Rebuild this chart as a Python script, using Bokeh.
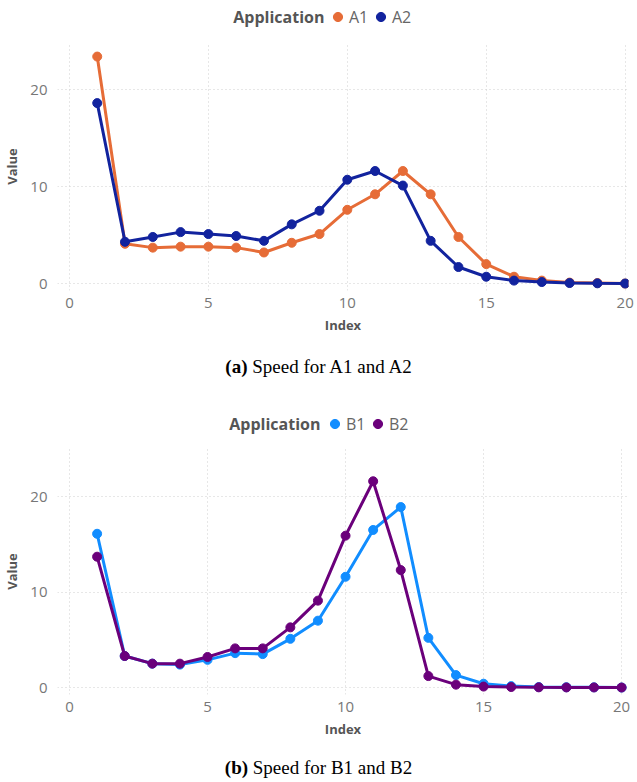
from bokeh.plotting import figure
from bokeh.models import Legend, LegendItem, Div, Range1d, FixedTicker, Label
from bokeh.layouts import column
from bokeh.embed import file_html
from bokeh.resources import INLINE

# ---------------- data ----------------
index = list(range(1, 21))
a1 = [23.4, 4.1, 3.7, 3.8, 3.8, 3.7, 3.2, 4.2, 5.1, 7.6, 9.2, 11.6, 9.2, 4.8, 2.0, 0.7, 0.3, 0.1, 0.05, 0.0]
a2 = [18.6, 4.3, 4.8, 5.3, 5.1, 4.9, 4.4, 6.1, 7.5, 10.7, 11.6, 10.1, 4.4, 1.7, 0.7, 0.3, 0.15, 0.05, 0.02, 0.0]
b1 = [16.1, 3.3, 2.5, 2.4, 2.9, 3.6, 3.5, 5.1, 7.0, 11.6, 16.5, 18.9, 5.2, 1.3, 0.4, 0.15, 0.05, 0.03, 0.02, 0.0]
b2 = [13.7, 3.3, 2.5, 2.5, 3.2, 4.1, 4.1, 6.3, 9.1, 15.9, 21.6, 12.3, 1.2, 0.3, 0.1, 0.05, 0.02, 0.01, 0.01, 0.0]
names_a = ["A1", "A2"]
names_b = ["B1", "B2"]
colors_a = ["#E66C37", "#12239E"]
colors_b = ["#118DFF", "#6B007B"]
x_ticks = [0, 5, 10, 15, 20]
y_ticks = [0, 10, 20]
legend_title = "Application"
x_label = "Index"
y_label = "Value"
caption_a = ("(a)", "Speed for A1 and A2")
caption_b = ("(b)", "Speed for B1 and B2")

FONT = "Open Sans"
W = 637
LEFT = 57
RIGHT = 9


def make_legend_fig(series, names, colors, height, leg_left, leg_top, title_right):
    # frame spans [LEFT, W-RIGHT] horizontally and the full height; data units = pixels
    p = figure(width=W, height=height, output_backend="svg", toolbar_location=None,
               x_range=Range1d(LEFT, W - RIGHT), y_range=Range1d(0, height),
               x_axis_type=None, y_axis_type=None,
               min_border_left=LEFT, min_border_right=RIGHT, min_border_top=0, min_border_bottom=0)
    p.outline_line_color = None
    p.grid.visible = False
    items = []
    for ys, name, col in zip(series, names, colors):
        # legend-only proxy renderers: data sits outside the visible range
        r = p.scatter([-1000 - i for i in index], ys, size=9, fill_color=col, line_color=col)
        items.append(LegendItem(label=name, renderers=[r]))
    leg = Legend(items=items, orientation="horizontal",
                 location=(leg_left - LEFT, height - leg_top - 23),
                 padding=0, margin=0, spacing=0,
                 glyph_width=23, glyph_height=23, label_standoff=0,
                 border_line_color=None, background_fill_alpha=0,
                 label_text_font=FONT, label_text_font_size="16px", label_text_color="#666666")
    p.add_layout(leg, "center")
    p.add_layout(Label(x=title_right, y=height - leg_top - 11.5, text=legend_title,
                       text_align="right", text_baseline="middle",
                       text_font=FONT, text_font_size="16px", text_font_style="bold",
                       text_color="#555555"))
    return p


def make_fig(series, colors, xr, yr, frame_h, bottom):
    p = figure(width=W, height=frame_h + bottom, output_backend="svg", toolbar_location=None,
               x_range=Range1d(*xr), y_range=Range1d(*yr),
               min_border_left=LEFT, min_border_right=RIGHT, min_border_top=0,
               min_border_bottom=bottom)
    p.outline_line_color = None
    p.background_fill_color = "white"
    p.border_fill_color = "white"
    for ax, ticks in ((p.xaxis[0], x_ticks), (p.yaxis[0], y_ticks)):
        ax.ticker = FixedTicker(ticks=ticks)
        ax.axis_line_color = None
        ax.major_tick_line_color = None
        ax.minor_tick_line_color = None
        ax.major_tick_out = 0
        ax.major_tick_in = 0
        ax.minor_tick_out = 0
        ax.major_label_text_font = FONT
        ax.major_label_text_font_size = "15px"
        ax.major_label_text_color = "#777777"
        ax.axis_label_text_font = FONT
        ax.axis_label_text_font_size = "13px"
        ax.axis_label_text_font_style = "bold"
        ax.axis_label_text_color = "#555555"
    p.xaxis.axis_label = x_label
    p.yaxis.axis_label = y_label
    p.xaxis.major_label_standoff = 7
    p.xaxis.axis_label_standoff = 5
    p.yaxis.major_label_standoff = 10
    p.yaxis.axis_label_standoff = 6
    for g in (p.xgrid[0], p.ygrid[0]):
        g.grid_line_color = "#cfcfcf"
        g.grid_line_dash = "1 3"
        g.grid_line_width = 1

    for ys, col in zip(series, colors):
        p.line(index, ys, line_color=col, line_width=3)
        p.scatter(index, ys, size=9, fill_color=col, line_color=col)
    return p


leg_a = make_legend_fig([a1, a2], names_a, colors_a, 42, 326, 5, 324)
fig_a = make_fig([a1, a2], colors_a, (-0.43, 20.12), (-0.72, 24.85), 248, 50)
leg_b = make_legend_fig([b1, b2], names_b, colors_b, 44, 323, 8, 320)
fig_b = make_fig([b1, b2], colors_b, (-0.435, 20.25), (-0.73, 25.03), 246, 51)


def caption(parts, height, pad):
    return Div(text=f"<b>{parts[0]}</b> {parts[1]}", width=W, height=height, margin=0,
               styles={"font-family": "'Liberation Serif', 'Times New Roman', serif",
                       "font-size": "19px", "color": "#000", "text-align": "center",
                       "width": f"{W}px", "line-height": "18px", "padding-top": f"{pad}px",
                       "box-sizing": "border-box"})


layout = column(leg_a, fig_a, caption(caption_a, 64, 18),
                leg_b, fig_b, caption(caption_b, 35, 14), spacing=0)

open("out.html", "w").write(file_html(layout, INLINE))
